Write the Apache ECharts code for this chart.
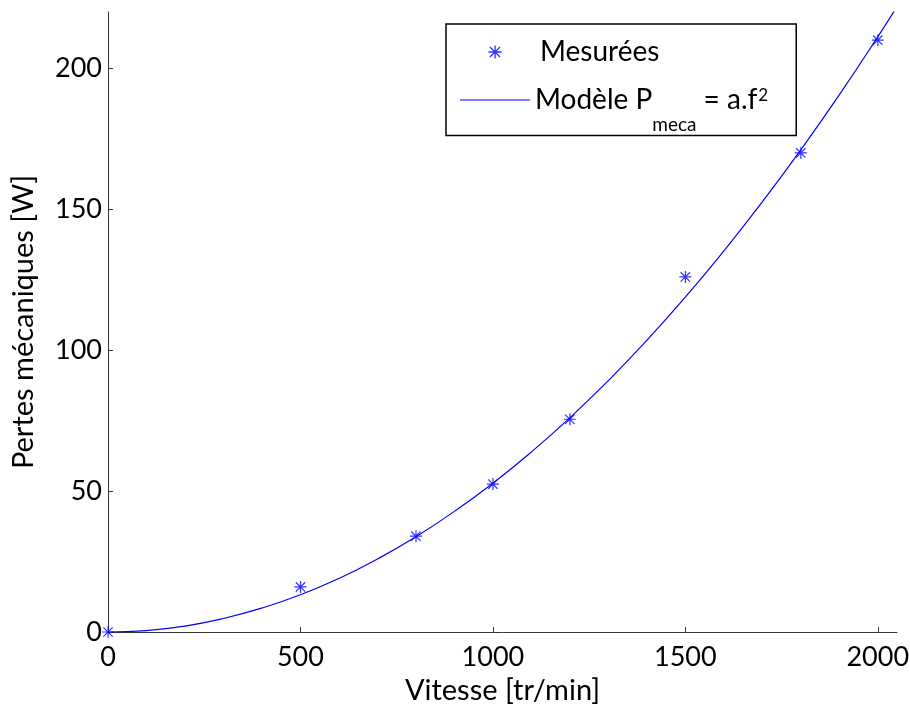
<!DOCTYPE html>
<html>
<head>
<meta charset="utf-8">
<script src="https://cdn.jsdelivr.net/npm/echarts@6/dist/echarts.min.js"></script>
<style>
html,body{margin:0;padding:0;background:#fff;}
#chart{width:910px;height:707px;}
</style>
</head>
<body>
<div id="chart"></div>
<script>
// Measured points (speed in tr/min, losses in W)
var measSpeed = [0, 500, 800, 1000, 1200, 1500, 1800, 2000];
var measLoss  = [0, 16, 34, 52.5, 75.5, 126, 170, 210];

// Model curve P_meca = a.f^2
var modelSpeed = [0, 100, 200, 300, 400, 500, 600, 700, 800, 900, 1000, 1100, 1200, 1300, 1400, 1500, 1600, 1700, 1800, 1900, 2000, 2050];
var modelLoss  = [0, 0.5, 2.1, 4.8, 8.5, 13.2, 19.0, 25.9, 33.8, 42.8, 52.8, 63.9, 76.0, 89.2, 103.5, 118.8, 135.2, 152.6, 171.1, 190.6, 211.2, 221.9];

var xTicks = [0, 500, 1000, 1500, 2000];
var yTicks = [0, 50, 100, 150, 200];

var FONT = 'Lato';
var BLUE = '#0000ff';
var ASTERISK = 'path://M11,0h2.4v24h-2.4z M0,10.8h24v2.4h-24z M3.5,1.8L22.2,20.5L20.5,22.2L1.8,3.5z M20.5,1.8L22.2,3.5L3.5,22.2L1.8,20.5z';
var LINE_ICON = 'path://M0,0h70v1.2h-70z';

var chart = echarts.init(document.getElementById('chart'), null, {renderer: 'canvas'});

var option = {
  backgroundColor: '#ffffff',
  animation: false,
  grid: {left: 108, right: 13, top: 12, bottom: 75, containLabel: false, outerBoundsMode: 'none'},
  xAxis: {
    type: 'value',
    min: 0, max: 2050, interval: 500,
    name: 'Vitesse [tr/min]',
    nameLocation: 'middle',
    nameGap: 30,
    nameTextStyle: {fontFamily: FONT, fontSize: 29, color: '#000'},
    axisLine: {show: true, lineStyle: {color: '#333', width: 1}},
    axisTick: {show: true, inside: true, length: 5, lineStyle: {color: '#333'}},
    axisLabel: {fontFamily: FONT, fontSize: 27, color: '#000', margin: 12, showMaxLabel: false,
      formatter: function (v) { return xTicks.indexOf(v) >= 0 ? String(v) : ''; }},
    splitLine: {show: false}
  },
  yAxis: {
    type: 'value',
    min: 0, max: 220, interval: 50,
    name: 'Pertes mécaniques [W]',
    nameLocation: 'middle',
    nameGap: 70,
    nameTextStyle: {fontFamily: FONT, fontSize: 29, color: '#000'},
    axisLine: {show: true, lineStyle: {color: '#333', width: 1}},
    axisTick: {show: true, inside: true, length: 5, lineStyle: {color: '#333'}},
    axisLabel: {fontFamily: FONT, fontSize: 27, color: '#000', margin: 6, showMaxLabel: false,
      formatter: function (v) { return yTicks.indexOf(v) >= 0 ? String(v) : ''; }},
    splitLine: {show: false}
  },
  legend: {
    orient: 'vertical',
    left: 446, top: 24,
    padding: [14, 28, 1, 14],
    itemGap: 20,
    itemWidth: 70,
    itemHeight: 13,
    borderColor: '#000',
    borderWidth: 1.5,
    backgroundColor: '#fff',
    data: [
      {name: 'Mesurées'},
      {name: 'Modèle', icon: LINE_ICON}
    ],
    formatter: function (name) {
      if (name === 'Mesurées') return '{b1|Mesurées}';
      return '{b2|Modèle P}{sub|meca}{b2| = a.f}{sup|2}';
    },
    textStyle: {
      fontFamily: FONT, fontSize: 28, color: '#000',
      rich: {
        b1: {fontFamily: FONT, fontSize: 28, color: '#000', lineHeight: 30, padding: [0, 0, 0, 5]},
        b2: {fontFamily: FONT, fontSize: 28, color: '#000', lineHeight: 30, verticalAlign: 'middle'},
        sub: {fontFamily: FONT, fontSize: 19, color: '#000', verticalAlign: 'middle', padding: [50, 0, 0, 0]},
        sup: {fontFamily: FONT, fontSize: 17, color: '#000', verticalAlign: 'middle', padding: [0, 0, 8, 1]}
      }
    }
  },
  series: [
    {
      name: 'Modèle',
      type: 'line',
      data: modelSpeed.map(function (x, i) { return [x, modelLoss[i]]; }),
      symbol: 'none',
      smooth: true,
      clip: true,
      lineStyle: {color: BLUE, width: 1.2},
      itemStyle: {color: BLUE},
      z: 2
    },
    {
      name: 'Mesurées',
      type: 'scatter',
      data: measSpeed.map(function (x, i) { return [x, measLoss[i]]; }),
      symbol: ASTERISK,
      symbolSize: 12,
      itemStyle: {color: BLUE},
      clip: false,
      z: 3
    }
  ]
};
chart.setOption(option);
</script>
</body>
</html>
